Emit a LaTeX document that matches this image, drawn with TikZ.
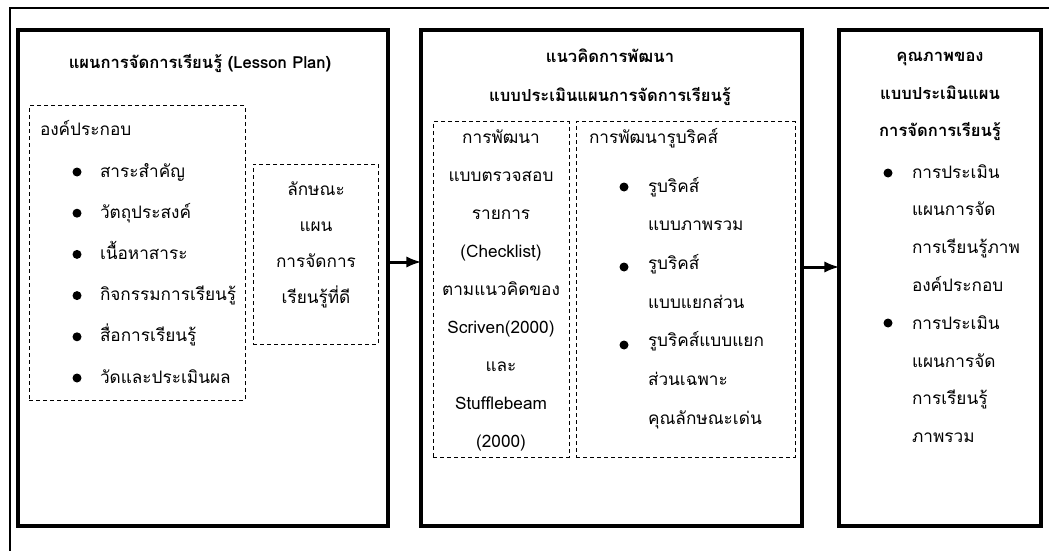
\documentclass[tikz,border=0pt]{standalone}
\usepackage{fontspec}
\setmainfont[Script=Thai]{Loma}
\usetikzlibrary{arrows, positioning, fit}

\begin{document}
\begin{tikzpicture}[x=0.5pt,y=-0.5pt,every node/.style={inner sep=0pt,outer sep=0pt,font=\fontsize{8.6pt}{10pt}\selectfont}]
\tikzstyle{frame}=[draw,line width=1.6pt]
\tikzstyle{subbox}=[draw,line width=0.5pt,dash pattern=on 2pt off 1.5pt]
\tikzstyle{head}=[anchor=base,font=\fontsize{8.3pt}{10pt}\selectfont\bfseries]
\tikzstyle{txt}=[anchor=base west]
\tikzstyle{mid}=[anchor=base]
\tikzstyle{dot}=[circle,fill,minimum size=4.5pt]
\tikzstyle{link}=[-latex,line width=1.5pt]

\useasboundingbox (0,0) rectangle (1049,551);
\draw [line width=1pt] (1049,8) -| (10,551);

% first column: lesson plan
\node (plan) [frame, fit={(18,30) (388,526)}] {};
\node (plantitle) [head] at (200,69) {แผนการจัดการเรียนรู้ (Lesson Plan)};
\node (parts) [subbox, fit={(29,106) (245,400)}] {};
\node (partshead) [txt] at (40,135) {องค์ประกอบ};
\foreach \t [count=\i] in {สาระสำคัญ, วัตถุประสงค์, เนื้อหาสาระ, กิจกรรมการเรียนรู้, สื่อการเรียนรู้, วัดและประเมินผล}
{
\node (pdot\i) [dot] at (77,{172+41.2*(\i-1)}) {};
\node (part\i) [txt] at (100,{177+41.2*(\i-1)}) {\t};
}
\node (good) [subbox, fit={(253,164) (378,344)}] {};
\foreach \t [count=\i] in {ลักษณะ, แผน, การจัดการ, เรียนรู้ที่ดี}
\node (good\i) [mid] at (316,{195+36*(\i-1)}) {\t};

% second column: development of the evaluation form
\node (dev) [frame, fit={(421,30) (802,526)}] {};
\node (devtitle1) [head] at (610,63) {แนวคิดการพัฒนา};
\node (devtitle2) [head] at (610,102) {แบบประเมินแผนการจัดการเรียนรู้};
\node (check) [subbox, fit={(433,122) (569,457)}] {};
\foreach \t [count=\i] in {การพัฒนา, แบบตรวจสอบ, รายการ, (Checklist), ตามแนวคิดของ, Scriven(2000), และ, Stufflebeam, (2000)}
\node (check\i) [mid] at (501,{143+38.1*(\i-1)}) {\t};
\node (rubric) [subbox, fit={(576,122) (795,457)}] {};
\node (rubrichead) [txt] at (589,143) {การพัฒนารูบริคส์};
\foreach \y in {187,267,345}
\node [dot] at (624,\y) {};
\foreach \t [count=\i] in {รูบริคส์, แบบภาพรวม, รูบริคส์, แบบแยกส่วน, รูบริคส์แบบแยก, ส่วนเฉพาะ, คุณลักษณะเด่น}
\node (rubric\i) [txt] at (648,{192+38.7*(\i-1)}) {\t};

% third column: quality
\node (qual) [frame, fit={(839,30) (1041,526)}] {};
\node (qualtitle1) [head] at (940,62) {คุณภาพของ};
\node (qualtitle2) [head] at (940,100) {แบบประเมินแผน};
\node (qualtitle3) [head] at (940,137) {การจัดการเรียนรู้};
\node (qdot1) [dot] at (888,173) {};
\node (qdot2) [dot] at (888,323) {};
\foreach \t [count=\i] in {การประเมิน, แผนการจัด, การเรียนรู้ภาพ, องค์ประกอบ, การประเมิน, แผนการจัด, การเรียนรู้, ภาพรวม}
\node (qual\i) [txt] at (912,{178+37.8*(\i-1)}) {\t};

\draw [link] ([yshift=8pt]plan.east) -- ([yshift=8pt]dev.west);
\draw [link] ([yshift=5.5pt]dev.east) -- ([yshift=5.5pt]qual.west);
\end{tikzpicture}
\end{document}
